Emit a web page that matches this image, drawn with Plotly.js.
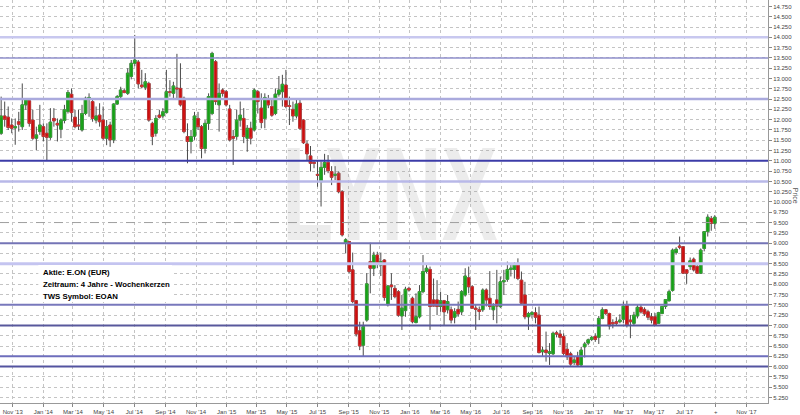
<!DOCTYPE html>
<html>
<head>
<meta charset="utf-8">
<script src="https://cdn.plot.ly/plotly-3.0.1.min.js"></script>
<style>html,body{margin:0;padding:0;background:#fff;}#chart{width:800px;height:415px;}</style>
</head>
<body>
<div id="chart"></div>
<script>
// Weekly candles, first week and step
const firstWeek = '2013-10-09';
const opens = [
11.67,12.09,12.06,11.87,11.80,11.95,11.83,12.36,12.46,11.99,11.55,11.71,11.83,11.67,11.57,12.03,11.91,11.77,11.98,12.20,12.62,12.06,11.87,11.75,12.15,12.49,12.44,11.99,12.11,11.99,11.55,11.87,11.51,12.38,12.56,12.70,12.64,
13.05,13.37,13.40,12.84,12.79,12.88,11.91,11.67,12.11,12.09,12.17,12.68,12.64,12.77,12.76,12.52,11.59,11.47,11.60,12.03,11.83,11.30,11.91,12.15,13.41,12.36,12.72,12.68,12.26,11.59,11.59,11.99,12.03,11.55,11.79,11.75,12.68,
12.28,12.03,12.49,12.32,12.15,12.62,12.68,12.84,12.34,12.25,12.09,12.40,11.99,11.41,11.12,10.96,10.67,10.49,10.84,10.96,10.74,10.65,10.70,10.25,9.00,9.04,8.35,7.60,6.87,6.52,7.13,8.55,8.39,8.71,8.47,8.59,7.50,
7.98,7.90,7.82,7.23,7.36,7.90,7.66,7.07,7.21,7.82,8.31,8.36,7.62,7.62,7.46,7.60,7.38,7.38,7.20,7.39,7.33,7.74,8.16,7.94,7.42,7.38,7.38,7.86,7.66,7.38,7.62,7.46,8.06,8.12,8.36,8.36,8.47,
8.10,7.74,7.21,7.27,7.31,7.25,6.36,6.40,6.32,6.31,6.82,6.79,6.73,6.42,6.31,6.10,6.24,6.04,6.48,6.57,6.66,6.73,6.71,7.17,7.38,7.29,7.07,7.09,7.09,7.15,7.50,7.13,7.05,7.23,7.44,7.39,7.33,7.21,7.21,7.05,7.29,7.46,7.60,7.85,8.77,8.93,8.91,8.35,8.43,8.61,8.43,8.27,8.87,9.28,9.60,9.48];
const highs = [
12.56,12.44,12.32,12.03,12.03,12.19,12.88,12.52,12.46,12.24,11.83,12.36,11.91,11.91,12.28,12.28,12.03,12.03,12.36,12.72,12.76,12.24,12.24,12.36,12.56,12.64,12.48,12.32,12.40,12.32,11.99,11.95,12.40,12.60,12.80,12.76,13.25,
13.45,14.06,13.45,13.21,13.13,12.92,11.95,12.11,12.24,12.28,13.21,12.96,12.92,13.60,13.37,12.56,11.91,11.75,12.19,12.19,11.87,11.99,12.64,13.65,13.45,12.88,12.76,12.72,12.36,11.75,12.24,12.44,12.28,11.87,11.95,12.76,12.72,
12.64,12.64,12.60,12.48,12.76,13.06,13.09,13.21,12.56,12.44,12.52,12.52,12.01,11.49,11.36,11.02,11.02,10.98,11.17,11.14,10.87,10.87,10.74,10.29,9.12,9.04,8.77,7.62,7.09,7.09,8.27,9.01,8.79,8.79,8.77,8.61,7.98,
8.27,7.98,7.86,7.74,7.94,7.94,7.70,7.78,7.98,8.71,8.47,8.43,8.14,8.10,7.82,7.62,7.74,7.46,7.42,7.58,7.86,8.39,8.43,7.98,7.50,7.46,7.90,7.90,8.32,7.54,8.35,8.19,8.35,8.55,8.47,8.53,8.63,
8.31,8.06,7.33,7.35,7.44,7.46,6.48,6.85,6.57,6.85,6.87,6.89,6.81,6.57,6.36,6.24,6.36,6.48,6.60,6.68,6.75,6.81,7.23,7.44,7.40,7.31,7.15,7.20,7.27,7.58,7.60,7.25,7.33,7.50,7.50,7.44,7.38,7.30,7.30,7.33,7.47,7.63,7.87,8.87,8.90,9.16,8.93,8.35,8.65,8.65,8.47,8.87,9.28,9.70,9.66,9.68];
const lows = [
11.63,11.83,11.75,11.67,11.39,11.71,11.75,12.24,11.83,11.51,11.26,11.63,11.47,11.02,11.51,11.83,11.47,11.55,11.91,12.15,11.95,11.79,11.75,11.71,12.11,12.07,11.95,11.91,11.83,11.51,11.38,11.34,11.43,12.36,12.52,12.64,12.60,
12.98,13.30,12.76,12.76,12.72,11.95,11.38,11.59,12.03,12.03,12.15,12.56,12.48,12.52,12.32,11.67,10.94,11.18,11.51,11.75,11.06,11.18,11.75,12.11,12.36,11.71,12.56,12.32,11.47,10.90,11.51,11.83,11.43,11.22,11.40,11.71,12.15,
11.79,11.79,12.28,12.07,12.11,12.56,12.32,12.28,11.87,11.95,12.03,11.75,11.41,11.02,10.74,10.82,10.37,9.89,10.66,10.70,10.41,10.53,10.21,9.16,8.75,8.27,7.54,6.73,6.40,6.24,7.09,7.78,8.20,8.39,8.20,7.60,7.46,
7.62,7.66,7.21,6.89,7.21,7.82,7.05,7.05,7.17,7.78,8.27,6.89,7.46,7.25,7.33,7.01,7.29,7.05,7.05,7.21,7.25,7.70,7.78,7.42,6.89,7.13,7.33,7.46,7.38,7.13,7.05,7.42,7.74,8.06,8.19,8.14,8.10,
7.50,7.15,6.89,7.17,7.05,6.32,6.24,6.12,6.04,6.28,6.71,6.52,6.28,6.16,6.02,6.04,6.02,6.02,6.22,6.52,6.62,6.60,6.55,7.15,7.25,6.90,6.93,7.00,7.05,7.05,6.95,6.69,7.01,7.17,7.29,7.23,7.13,7.05,7.01,7.05,7.27,7.40,7.58,7.82,8.72,8.85,8.25,8.01,8.35,8.31,8.25,8.25,8.80,9.16,9.30,9.35];
const closes = [
12.09,12.01,11.81,11.79,11.83,11.89,12.36,12.48,11.91,11.55,11.63,11.87,11.59,11.57,11.94,11.97,11.87,11.99,12.24,12.66,12.17,11.83,11.85,12.15,12.52,12.54,12.03,12.09,11.95,11.55,11.83,11.51,12.38,12.56,12.72,12.66,13.13,
13.37,13.45,12.87,12.80,12.92,11.99,11.59,12.03,12.06,12.19,12.68,12.66,12.82,12.75,12.36,11.71,11.47,11.59,12.09,11.83,11.30,11.91,12.56,13.61,12.44,12.64,12.64,12.36,11.51,11.55,11.99,12.11,11.59,11.79,11.55,12.72,12.44,
11.93,12.54,12.36,12.11,12.62,12.72,12.86,12.32,12.32,12.09,12.38,11.79,11.44,11.17,10.94,10.94,10.65,10.84,10.96,10.76,10.60,10.67,10.25,9.20,9.08,8.31,7.58,6.79,6.50,6.97,8.01,8.39,8.71,8.51,8.55,7.68,7.96,
7.94,7.70,7.25,7.42,7.88,7.86,7.09,7.21,7.82,8.31,8.39,7.46,7.47,7.46,7.60,7.33,7.58,7.13,7.33,7.28,7.82,8.20,7.94,7.42,7.39,7.34,7.86,7.62,7.46,7.47,7.47,8.06,8.09,8.36,8.39,8.47,8.14,
7.54,7.21,7.29,7.31,7.20,6.34,6.40,6.34,6.36,6.81,6.79,6.71,6.32,6.24,6.06,6.16,6.04,6.40,6.55,6.65,6.71,6.66,7.17,7.38,7.29,6.99,7.04,7.05,7.13,7.47,7.01,7.09,7.25,7.44,7.33,7.28,7.20,7.13,7.01,7.31,7.46,7.63,7.82,8.83,8.85,8.90,8.27,8.27,8.57,8.35,8.27,8.83,9.28,9.63,9.48,9.63];

const tickDates = ['2013-11-01','2014-01-01','2014-03-01','2014-05-01','2014-07-01','2014-09-01','2014-11-01','2015-01-01','2015-03-01','2015-05-01','2015-07-01','2015-09-01','2015-11-01','2016-01-01','2016-03-01','2016-05-01','2016-07-01','2016-09-01','2016-11-01','2017-01-01','2017-03-01','2017-05-01','2017-07-01','2017-09-01','2017-11-01'];
const tickLabels = ["Nov '13","Jan '14","Mar '14","May '14","Jul '14","Sep '14","Nov '14","Jan '15","Mar '15","May '15","Jul '15","Sep '15","Nov '15","Jan '16","Mar '16","May '16","Jul '16","Sep '16","Nov '16","Jan '17","Mar '17","May '17","Jul '17","+","Nov '17"];

const levelPrices = [14.0, 13.5, 12.5, 11.0, 10.5, 9.0, 8.5, 7.5, 7.0, 6.25, 6.0];
const lastPrice = 9.5;
const infoLines = ['Aktie: E.ON (EUR)', 'Zeitraum: 4 Jahre - Wochenkerzen', 'TWS Symbol: EOAN'];
const watermark = 'LYNX';

// axis extent (layout)
const xStart = '2013-10-06 16:00', xEnd = '2017-12-14';
const yMin = 5.115, yMax = 14.908;

// styles (not data)
const levelStyles = [
  {c:'#c8c8ef', w:2.5}, {c:'#9090cc', w:1.5}, {c:'#aaaadd', w:2.5}, {c:'#3c3ca8', w:2},
  {c:'#b8b8e8', w:2.5}, {c:'#7474b6', w:2}, {c:'#c4c4f0', w:3}, {c:'#7878bc', w:2},
  {c:'#58589c', w:2}, {c:'#6e6ebc', w:2}, {c:'#5454a0', w:2}
];

// weekly dates
const dates = [];
const d0 = new Date(firstWeek + 'T00:00:00Z');
for (let i = 0; i < closes.length; i++) {
  const d = new Date(d0.getTime() + i * 7 * 86400000);
  dates.push(d.toISOString().slice(0, 10));
}
const bodyHigh = opens.map((o, i) => Math.max(o, closes[i]));
const bodyLow = opens.map((o, i) => Math.min(o, closes[i]));

const traces = [];
// watermark (behind everything drawn as data)
traces.push({
  type: 'scatter', mode: 'text', x: ['2015-11-22'], y: [9.88], text: [watermark],
  textposition: 'middle center',
  textfont: {family: 'Liberation Sans, Arial, sans-serif', size: 133, color: 'rgba(150,150,150,0.18)', weight: 'bold'},
  hoverinfo: 'skip', showlegend: false, cliponaxis: false
});
// support / resistance levels
levelPrices.forEach((p, i) => {
  traces.push({type: 'scatter', mode: 'lines', x: [xStart, xEnd], y: [p, p],
    line: {color: levelStyles[i].c, width: levelStyles[i].w}, hoverinfo: 'skip', showlegend: false});
});
traces.push({type: 'scatter', mode: 'lines', x: [xStart, xEnd], y: [lastPrice, lastPrice],
  line: {color: '#a0a0a0', width: 1, dash: 'dash'}, hoverinfo: 'skip', showlegend: false});
// white info box (Dec 2013 .. Sep 2014, 7.57 .. 8.47 in data units)
traces.push({type: 'scatter', mode: 'lines', x: ['2013-12-22','2014-09-14','2014-09-14','2013-12-22','2013-12-22'],
  y: [7.57, 7.57, 8.47, 8.47, 7.57], fill: 'toself', fillcolor: '#ffffff', line: {width: 0, color: '#ffffff'},
  hoverinfo: 'skip', showlegend: false});

const wickColor = '#4a4a4a';
traces.push({
  type: 'candlestick', x: dates, open: opens, high: highs, low: lows, close: closes,
  increasing: {line: {color: wickColor, width: 1}, fillcolor: wickColor},
  decreasing: {line: {color: wickColor, width: 1}, fillcolor: wickColor},
  whiskerwidth: 0, hoverinfo: 'skip', showlegend: false
});
traces.push({
  type: 'candlestick', x: dates, open: opens, high: bodyHigh, low: bodyLow, close: closes,
  increasing: {line: {color: '#3db83d', width: 0.6}, fillcolor: '#17a017'},
  decreasing: {line: {color: '#e04040', width: 0.6}, fillcolor: '#cc0e0e'},
  whiskerwidth: 0, hoverinfo: 'skip', showlegend: false
});

const annotations = infoLines.map((t, i) => ({
  xref: 'paper', yref: 'paper', x: 41/768, y: 1 - (272 + 12*i)/403,
  xanchor: 'left', yanchor: 'middle', text: '<b>' + t + '</b>', showarrow: false,
  font: {family: 'Liberation Sans, Arial, sans-serif', size: 7.8, color: '#000'}
}));
annotations.push({
  xref: 'paper', yref: 'y', x: 795/768, y: 10.15, text: 'Price', textangle: 90, showarrow: false,
  xanchor: 'center', yanchor: 'middle',
  font: {family: 'Liberation Sans, Arial, sans-serif', size: 7, color: '#555'}
});

const tickFont = {family: 'Liberation Sans, Arial, sans-serif', size: 6, color: '#444'};
const layout = {
  width: 800, height: 415,
  margin: {l: 0, r: 32, t: 0, b: 12, pad: 0},
  paper_bgcolor: '#ffffff', plot_bgcolor: '#ffffff',
  showlegend: false, boxgap: 0.25, boxgroupgap: 0,
  xaxis: {
    type: 'date', range: [xStart, xEnd],
    tickmode: 'array', tickvals: tickDates, ticktext: tickLabels,
    showgrid: true, gridcolor: '#c4c4c4', griddash: 'dot', gridwidth: 1,
    ticks: 'outside', ticklen: 3, tickcolor: '#888', tickfont: tickFont,
    showline: true, linecolor: '#999', linewidth: 1, zeroline: false,
    rangeslider: {visible: false}, fixedrange: true
  },
  yaxis: {
    side: 'right', range: [yMin, yMax], tick0: 0, dtick: 0.25, tickformat: '.3f',
    showgrid: true, gridcolor: '#c4c4c4', griddash: 'dot', gridwidth: 1,
    ticks: 'outside', ticklen: 3, tickcolor: '#888', tickfont: tickFont,
    showline: true, linecolor: '#999', linewidth: 1, zeroline: false, fixedrange: true
  },
  annotations: annotations
};

Plotly.newPlot('chart', traces, layout, {displayModeBar: false, staticPlot: true}).then(gd => {
  const t = gd.querySelector('.scatterlayer .trace text');
  if (t) {
    const s = 0.63;
    const x = parseFloat(t.getAttribute('x')) || 0;
    t.setAttribute('transform', 'translate(' + (x * (1 - s)) + ',0) scale(' + s + ',1)');
  }
});
</script>
</body>
</html>
